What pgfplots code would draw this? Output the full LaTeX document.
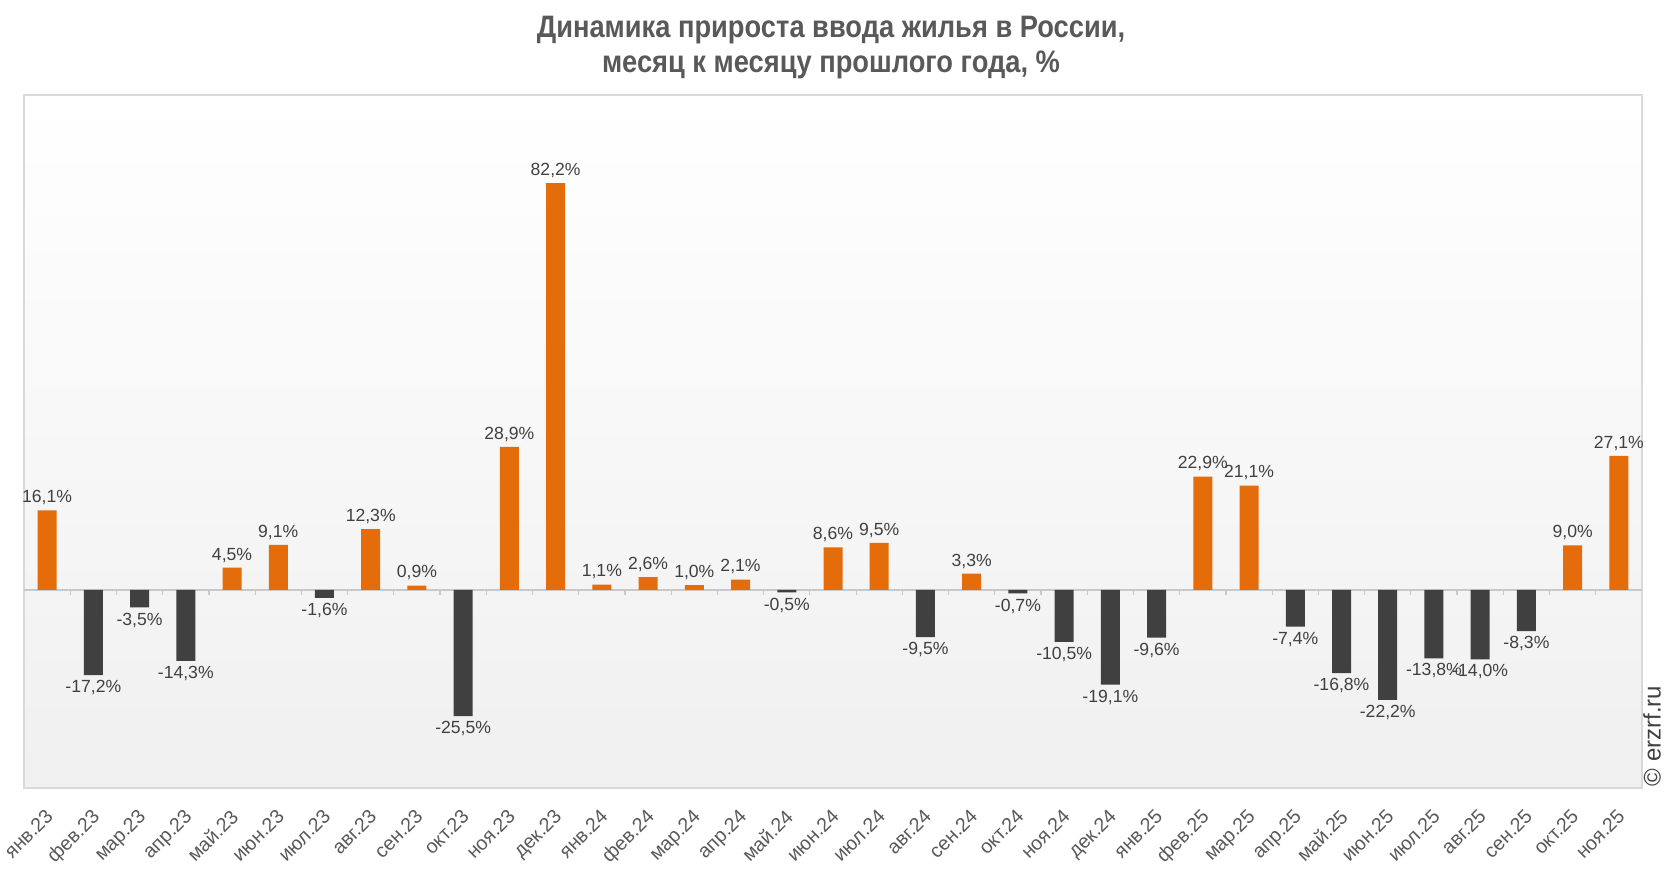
\documentclass[border=0pt]{standalone}
\usepackage{fontspec}
\setmainfont{Liberation Sans}
\newfontfamily\titlefont[FakeStretch=0.88]{Liberation Sans}
\usepackage{pgfplots}
\pgfplotsset{compat=1.18}
\definecolor{cOrange}{HTML}{E46C0A}
\definecolor{cDark}{HTML}{404040}
\definecolor{cLabel}{HTML}{404040}
\definecolor{cTick}{HTML}{595959}
\definecolor{cTitle}{HTML}{595959}
\definecolor{cBorder}{HTML}{D9D9D9}
\definecolor{cZero}{HTML}{C8C8C8}
\begin{document}
\begin{tikzpicture}
\begin{axis}[
  at={(12pt,42pt)}, anchor=south west,
  scale only axis,
  width=809pt, height=346.5pt,
  xmin=-0.5, xmax=34.5,
  ymin=-40, ymax=100,
  ybar, bar width=9.5pt, bar shift=0pt,
  axis background/.style={top color=white, bottom color=black!6},
  axis line style={draw=cBorder, line width=0.6pt},
  ymajorticks=false,
  xtick={0,...,34},
  xticklabels={янв.23,фев.23,мар.23,апр.23,май.23,июн.23,июл.23,авг.23,сен.23,окт.23,ноя.23,дек.23,янв.24,фев.24,мар.24,апр.24,май.24,июн.24,июл.24,авг.24,сен.24,окт.24,ноя.24,дек.24,янв.25,фев.25,мар.25,апр.25,май.25,июн.25,июл.25,авг.25,сен.25,окт.25,ноя.25},
  major tick length=0pt,
  x tick label style={rotate=45, anchor=north east, font=\fontsize{9.8}{11}\selectfont, text=cTick, yshift=-2.6pt, xshift=-4.5pt},
  nodes near coords={\pgfmathprintnumber[fixed,fixed zerofill,precision=1,use comma,assume math mode=true]{\pgfplotspointmeta}\%},
  every node near coord/.append style={font=\fontsize{8.8}{10}\selectfont, text=cLabel, inner sep=2.5pt},
  clip=false,
]
\draw[cZero, line width=0.6pt] (axis cs:-0.5,0) -- (axis cs:34.5,0);
\pgfplotsinvokeforeach{0.5,1.5,...,33.5}{\draw[cZero, line width=0.6pt] (axis cs:#1,0) -- ++(0pt,-2.5pt);}
\addplot[fill=cOrange, draw=none] coordinates {
 (0,16.1) (4,4.5) (5,9.1) (7,12.3) (8,0.9) (10,28.9) (11,82.2)
 (12,1.1) (13,2.6) (14,1.0) (15,2.1) (17,8.6) (18,9.5) (20,3.3)
 (25,22.9) (26,21.1) (33,9.0) (34,27.1)
};
\addplot[fill=cDark, draw=none] coordinates {
 (1,-17.2) (2,-3.5) (3,-14.3) (6,-1.6) (9,-25.5)
 (16,-0.5) (19,-9.5) (21,-0.7) (22,-10.5) (23,-19.1)
 (24,-9.6) (27,-7.4) (28,-16.8) (29,-22.2) (30,-13.8) (31,-14.0) (32,-8.3)
};
\end{axis}
\node[font=\titlefont\bfseries\fontsize{15.5}{18}\selectfont, text=cTitle] at (415.5pt,421pt) {Динамика прироста ввода жилья в России,};
\node[font=\titlefont\bfseries\fontsize{15.5}{18}\selectfont, text=cTitle] at (415.5pt,403.5pt) {месяц к месяцу прошлого года, \%};
\node[rotate=90, font=\fontsize{12}{14}\selectfont, text=cLabel] at (826pt,68pt) {© erzrf.ru};
\pgfresetboundingbox
\useasboundingbox (0,0) rectangle (833pt,436pt);
\end{tikzpicture}
\end{document}
